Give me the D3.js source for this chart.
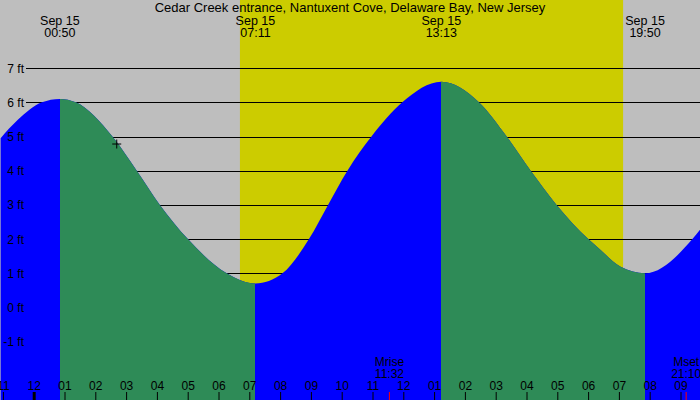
<!DOCTYPE html>
<html>
<head>
<meta charset="utf-8">
<script src="https://cdn.jsdelivr.net/npm/d3@7"></script>
<style>
  body { margin: 0; background: #bebebe; }
  svg { display: block; font-family: "Liberation Sans", Arial, sans-serif; }
</style>
</head>
<body>
<div id="chart"></div>
<script>
const title = "Cedar Creek entrance, Nantuxent Cove, Delaware Bay, New Jersey";
const dayLabel = "Sep 15";

// tide curve: hours after midnight Sep 15, height in ft
const tideHours = [-1.09, -0.54, 0.25, 0.833, 1.35, 2.54, 3.33, 4.08, 4.99, 6.25, 7.183,
  8.06, 8.92, 9.54, 10.17, 10.95, 11.95, 13.217, 14.44, 15.34, 16.12, 16.96, 17.99,
  18.39, 19.04, 19.833, 21.37, 21.64];
const tideFeet = [4.95, 5.48, 6.0, 6.1, 6.0, 5.0, 4.0, 3.0, 2.0, 1.0, 0.7,
  1.0, 2.0, 3.0, 4.0, 5.0, 6.0, 6.6, 6.0, 5.0, 4.0, 3.0, 2.0,
  1.68, 1.19, 1.0, 2.0, 2.3];

// high / low tides
const extremeHours = [0.833, 7.183, 13.217, 19.833];
const extremeTimes = ["00:50", "07:11", "13:13", "19:50"];

const sunriseHour = 6.68;
const sunsetHour = 19.12;
const moonHours = [11.533, 21.167];
const moonNames = ["Mrise", "Mset"];
const moonTimes = ["11:32", "21:10"];

const nowHour = 2.68;
const nowFeet = 4.78;

const feetTicks = [-1, 0, 1, 2, 3, 4, 5, 6, 7];
const hourTicks = d3.range(-1, 22);

const width = 700, height = 400;

const x = d3.scaleLinear().domain([0, 12]).range([34.2, 403.8]);
const y = d3.scaleLinear().domain([0, 7]).range([307.5, 68.1]);

const svg = d3.select("#chart").append("svg")
  .attr("width", width)
  .attr("height", height);

// night / day background
svg.append("rect")
  .attr("width", width).attr("height", height)
  .attr("fill", "#bebebe");
svg.append("rect")
  .attr("x", x(sunriseHour)).attr("y", 0)
  .attr("width", x(sunsetHour) - x(sunriseHour)).attr("height", height)
  .attr("fill", "#cccc00");

// grid lines
svg.append("g")
  .selectAll("line")
  .data(feetTicks)
  .join("line")
  .attr("x1", 26).attr("x2", width)
  .attr("y1", d => Math.round(y(d)) + 0.5).attr("y2", d => Math.round(y(d)) + 0.5)
  .attr("stroke", "#000").attr("stroke-width", 1);

// tide area: blue underneath, green over the falling stretches
const tide = tideHours.map((h, i) => ({ h: h, v: tideFeet[i] }));
const area = d3.area()
  .x(d => x(d.h))
  .y0(height)
  .y1(d => y(d.v))
  .curve(d3.curveMonotoneX);

svg.append("path")
  .datum(tide)
  .attr("fill", "#0000ff")
  .attr("d", area);

const defs = svg.append("defs");
for (let i = 0; i + 1 < extremeHours.length; i += 2) {
  const x0 = Math.round(x(extremeHours[i])), x1 = Math.round(x(extremeHours[i + 1]));
  defs.append("clipPath").attr("id", "fall" + i)
    .append("rect")
    .attr("x", x0).attr("y", 0)
    .attr("width", x1 - x0).attr("height", height);
  svg.append("path")
    .datum(tide)
    .attr("clip-path", "url(#fall" + i + ")")
    .attr("fill", "#2e8b57")
    .attr("d", area);
}

// current position marker
svg.append("path")
  .attr("d", `M${x(nowHour) - 4.5},${y(nowFeet)}h9M${x(nowHour)},${y(nowFeet) - 4.5}v9`)
  .attr("stroke", "#000").attr("stroke-width", 1).attr("fill", "none");

// feet labels
svg.append("g")
  .selectAll("text")
  .data(feetTicks)
  .join("text")
  .attr("x", 24).attr("y", d => y(d) + 4.5)
  .attr("text-anchor", "end")
  .attr("font-size", 12)
  .text(d => d + " ft");

// title
svg.append("text")
  .attr("x", width / 2).attr("y", 12)
  .attr("text-anchor", "middle")
  .attr("font-size", 13)
  .text(title);

// high / low labels
const ext = svg.append("g")
  .selectAll("g")
  .data(extremeHours)
  .join("g")
  .attr("transform", d => `translate(${x(d)},0)`)
  .attr("text-anchor", "middle")
  .attr("font-size", 12.5);
ext.append("text").attr("y", 24.5).text(dayLabel);
ext.append("text").attr("y", 36.5).text((d, i) => extremeTimes[i]);

// hour axis
const axis = svg.append("g");
axis.selectAll("line")
  .data(hourTicks)
  .join("line")
  .attr("x1", d => x(d)).attr("x2", d => x(d))
  .attr("y1", 392).attr("y2", height)
  .attr("stroke", "#000")
  .attr("stroke-width", d => d === 0 ? 3 : 1);
axis.selectAll("text")
  .data(hourTicks)
  .join("text")
  .attr("x", d => x(d)).attr("y", 390)
  .attr("text-anchor", "middle")
  .attr("font-size", 12)
  .text(d => d3.format("02")(((d % 12) + 12) % 12 || 12));

// moon rise / set
const moon = svg.append("g")
  .selectAll("g")
  .data(moonHours)
  .join("g")
  .attr("transform", d => `translate(${x(d)},0)`)
  .attr("text-anchor", "middle")
  .attr("font-size", 12);
moon.append("line")
  .attr("y1", 392).attr("y2", height)
  .attr("stroke", "#ff0000");
moon.append("text").attr("y", 366).text((d, i) => moonNames[i]);
moon.append("text").attr("y", 378).text((d, i) => moonTimes[i]);
</script>
</body>
</html>
